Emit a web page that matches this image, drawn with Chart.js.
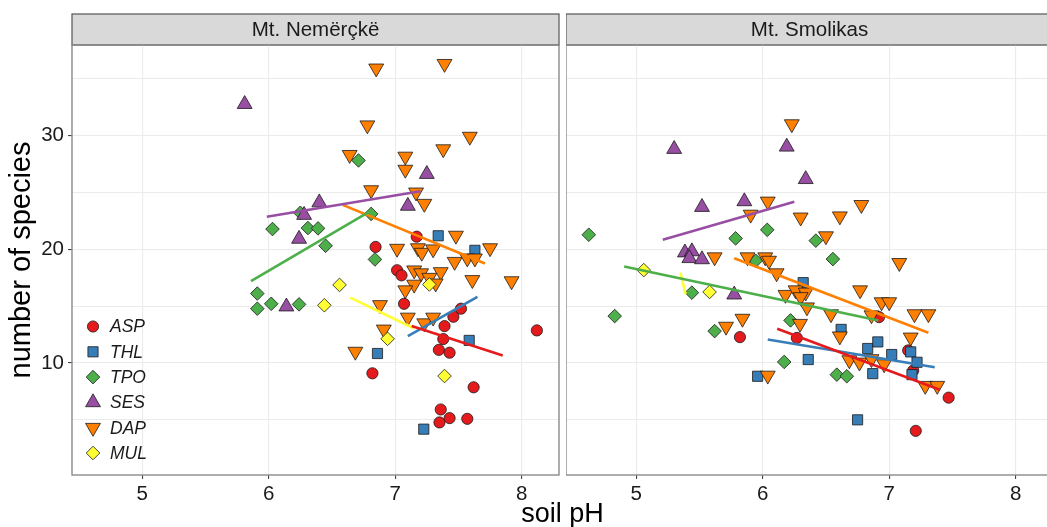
<!DOCTYPE html>
<html>
<head>
<meta charset="utf-8">
<script src="https://cdn.jsdelivr.net/npm/chart.js@4.4.1/dist/chart.umd.min.js"></script>
<style>
  html, body { margin: 0; padding: 0; overflow: hidden; background: #fff; width: 1047px; height: 527px; }
  .panel { position: absolute; top: 0; height: 527px; }
  #xtitle { position: absolute; left: 72px; width: 981px; top: 497px; text-align: center;
            font: 27px 'Liberation Sans', Arial, sans-serif; color: #000; line-height: 32px; }
</style>
</head>
<body>
<div class="panel" style="left:0;width:560px"><canvas id="nem"></canvas></div>
<div class="panel" style="left:566px;width:487px"><canvas id="smo"></canvas></div>
<div id="xtitle">soil pH</div>
<script>
// Species groups and their colours / point shapes
const groups = ['ASP', 'THL', 'TPO', 'SES', 'DAP', 'MUL'];
const groupColors = ['#E41A1C', '#377EB8', '#4DAF4A', '#984EA3', '#FF7F00', '#FFFF33'];
const groupShapes = [
  { pointStyle: 'circle',   radius: 5.6, rotation: 0 },
  { pointStyle: 'rect',     radius: 7.2, rotation: 0 },
  { pointStyle: 'rectRot',  radius: 6.8, rotation: 0 },
  { pointStyle: 'triangle', radius: 8.6, rotation: 0 },
  { pointStyle: 'triangle', radius: 8.6, rotation: 180 },
  { pointStyle: 'rectRot',  radius: 6.8, rotation: 0 }
];
const siteNames = ['Mt. Nemërçkë', 'Mt. Smolikas'];
const xTicks = [5, 6, 7, 8];
const yTicks = [5, 10, 15, 20, 25, 30, 35];

// Mt. Nemërçkë: [soil pH, number of species]
const nemASP = [[7.17,21.1],[6.845,20.2],[7.015,18.15],[7.05,17.7],[7.07,15.2],[7.52,14.77],[7.46,14.06],[7.39,13.24],[7.38,12.1],[7.345,11.15],[7.43,10.9],[8.12,12.86],[6.82,9.09],[7.62,7.86],[7.36,5.91],[7.43,5.15],[7.35,4.77],[7.57,5.09]];
const nemTHL = [[7.34,21.18],[7.63,19.9],[7.585,11.98],[6.86,10.83],[7.226,4.18]];
const nemTPO = [[6.03,21.77],[6.25,23.2],[6.31,21.86],[6.39,21.83],[6.71,27.8],[6.81,23.1],[6.45,20.3],[6.84,19.1],[5.91,16.1],[5.91,14.77],[6.02,15.2],[6.24,15.15]];
const nemSES = [[5.81,32.75],[6.28,23.0],[6.40,24.1],[6.24,20.9],[7.25,26.6],[7.10,23.8],[6.14,14.95]];
const nemDAP = [[6.85,35.9],[7.39,36.3],[6.78,30.9],[7.59,29.9],[7.38,28.8],[6.64,28.3],[7.08,28.15],[7.08,27.0],[6.81,25.2],[7.165,25.0],[7.23,24.0],[7.48,21.2],[7.015,20.05],[7.18,20.1],[7.21,19.7],[7.30,20.0],[7.75,20.1],[7.47,18.9],[7.57,19.2],[7.63,19.2],[7.15,18.15],[7.205,17.9],[7.36,18.0],[7.27,17.5],[7.32,17.0],[7.15,16.9],[7.08,16.4],[7.61,17.3],[7.92,17.2],[6.88,15.1],[7.10,14.0],[7.23,13.5],[7.30,14.0],[6.91,12.95],[6.685,11.0]];
const nemMUL = [[6.56,16.86],[6.44,15.07],[7.27,16.9],[6.94,12.12],[7.39,8.85]];

// Mt. Nemërçkë: fitted trend lines (start, end)
const nemFitASP = [[7.13,13.24],[7.85,10.65]];
const nemFitTHL = [[7.10,12.36],[7.65,15.8]];
const nemFitTPO = [[5.86,17.2],[6.81,23.4]];
const nemFitSES = [[5.985,22.86],[7.20,25.1]];
const nemFitDAP = [[6.585,23.9],[7.71,18.74]];
const nemFitMUL = [[6.645,15.74],[7.15,13.03]];

// Mt. Smolikas: [soil pH, number of species]
const smoASP = [[5.82,12.27],[6.27,12.2],[6.92,14.03],[7.15,11.1],[7.19,9.33],[7.47,6.95],[7.21,4.03]];
const smoTHL = [[5.96,8.83],[6.32,17.06],[6.36,10.3],[6.62,12.95],[6.83,11.27],[6.91,11.85],[7.02,10.74],[6.87,9.06],[7.17,10.97],[7.22,10.06],[7.18,8.97],[6.75,5.0]];
const smoTPO = [[4.625,21.27],[5.786,20.95],[6.036,21.7],[5.945,18.98],[6.42,20.75],[6.555,19.13],[4.83,14.12],[5.44,16.18],[5.62,12.8],[6.22,13.74],[6.17,10.09],[6.586,8.97],[6.665,8.83]];
const smoSES = [[5.30,28.8],[6.19,29.0],[6.34,26.15],[5.52,23.7],[5.855,24.2],[5.385,19.7],[5.44,19.8],[5.42,19.2],[5.52,19.1],[5.775,16.0]];
const smoDAP = [[6.23,31.0],[6.04,24.2],[5.905,23.05],[5.62,19.3],[5.88,19.3],[6.02,19.3],[6.05,19.0],[6.78,23.9],[6.61,22.9],[6.30,22.8],[6.50,21.15],[7.08,18.8],[5.71,13.2],[5.84,13.9],[6.04,8.9],[6.11,17.9],[6.18,16.0],[6.26,16.4],[6.34,16.2],[6.30,15.8],[6.35,14.9],[6.295,13.45],[6.54,14.3],[6.77,16.4],[6.94,15.35],[7.00,15.35],[6.86,14.2],[7.20,14.3],[7.31,14.3],[6.61,12.35],[7.17,12.25],[6.685,10.25],[6.765,10.05],[6.86,10.35],[6.96,9.9],[7.285,8.0],[7.38,8.0]];
const smoMUL = [[5.06,18.16],[5.58,16.24]];

// Mt. Smolikas: fitted trend lines (start, end)
const smoFitASP = [[6.115,13.0],[7.40,7.65]];
const smoFitTHL = [[6.04,12.06],[7.36,9.62]];
const smoFitTPO = [[4.905,18.47],[6.915,13.74]];
const smoFitSES = [[5.21,20.83],[6.25,24.18]];
const smoFitDAP = [[5.775,19.2],[7.31,12.65]];
const smoFitMUL = [[5.35,17.94],[5.39,16.04]];

const FONT = "'Liberation Sans', Arial, sans-serif";
const toXY = arr => arr.map(([x, y]) => ({ x, y }));

function buildDatasets(points, fits) {
  const ds = [];
  groups.forEach((g, i) => {
    const s = groupShapes[i];
    ds.push({
      label: g,
      data: toXY(points[i]),
      order: groups.length - i,
      backgroundColor: groupColors[i],
      borderColor: '#1a1a1a',
      borderWidth: 0.8,
      pointStyle: s.pointStyle,
      pointRadius: s.radius,
      pointRotation: s.rotation,
      pointHoverRadius: s.radius
    });
  });
  groups.forEach((g, i) => {
    ds.push({
      type: 'line',
      label: g + ' trend',
      data: toXY(fits[i]),
      order: 0,
      showLine: true,
      borderColor: groupColors[i],
      borderWidth: 2.6,
      pointRadius: 0,
      fill: false
    });
  });
  return ds;
}

// Strip header, panel frame and in-panel legend
const facetPlugin = {
  id: 'facet',
  beforeDraw(chart, args, opts) {
    const { ctx, chartArea: a } = chart;
    ctx.save();
    const top = 14;
    ctx.fillStyle = '#d9d9d9';
    ctx.fillRect(a.left, top, a.right - a.left, a.top - top);
    ctx.strokeStyle = '#555';
    ctx.lineWidth = 1.2;
    ctx.strokeRect(a.left, top, a.right - a.left, a.top - top);
    ctx.fillStyle = '#1a1a1a';
    ctx.font = '20.5px ' + FONT;
    ctx.textAlign = 'center';
    ctx.textBaseline = 'middle';
    ctx.fillText(opts.title, (a.left + a.right) / 2, (top + a.top) / 2 + 1);
    ctx.restore();
  },
  afterDraw(chart, args, opts) {
    const { ctx, chartArea: a } = chart;
    ctx.save();
    ctx.strokeStyle = '#8a8a8a';
    ctx.lineWidth = 1.4;
    ctx.strokeRect(a.left, a.top, a.right - a.left, a.bottom - a.top);
    if (opts.legend) {
      const x0 = a.left + 21, y0 = 326.5, step = 25.3;
      groups.forEach((g, i) => {
        const y = y0 + i * step;
        const s = groupShapes[i];
        ctx.fillStyle = groupColors[i];
        ctx.strokeStyle = '#1a1a1a';
        ctx.lineWidth = 0.8;
        Chart.helpers.drawPoint(ctx, { pointStyle: s.pointStyle, radius: s.radius, rotation: s.rotation, borderWidth: 0.8 }, x0, y);
        ctx.fillStyle = '#1a1a1a';
        ctx.font = 'italic 17.5px ' + FONT;
        ctx.textAlign = 'left';
        ctx.textBaseline = 'middle';
        ctx.fillText(g, x0 + 17, y + 1);
      });
    }
    ctx.restore();
  }
};

function makeChart(id, title, points, fits, first) {
  const gridColor = '#ebebeb';
  return new Chart(document.getElementById(id), {
    type: 'scatter',
    data: { datasets: buildDatasets(points, fits) },
    plugins: [facetPlugin],
    options: {
      responsive: true,
      maintainAspectRatio: false,
      animation: false,
      events: [],
      layout: { autoPadding: false, padding: { top: 45, right: first ? 1 : 0, left: 0, bottom: 0 } },
      plugins: {
        legend: { display: false },
        tooltip: { enabled: false },
        facet: { title: title, legend: first }
      },
      scales: {
        x: {
          type: 'linear',
          min: 4.445, max: 8.295,
          afterBuildTicks: s => { s.ticks = xTicks.map(v => ({ value: v })); },
          afterFit: s => { s.height = 52; s.paddingLeft = 0; s.paddingRight = 0; },
          border: { display: false },
          grid: { color: gridColor, lineWidth: 1.1, drawTicks: true, tickLength: 4, tickColor: '#444' },
          ticks: { color: '#1a1a1a', font: { family: FONT, size: 20.5 }, padding: 3, maxRotation: 0 }
        },
        y: {
          type: 'linear',
          min: 0.15, max: 37.95,
          afterBuildTicks: s => { s.ticks = yTicks.map(v => ({ value: v })); },
          afterFit: s => { s.width = first ? 72 : 0; s.paddingTop = 0; s.paddingBottom = 0; },
          border: { display: false },
          grid: {
            color: gridColor,
            lineWidth: 1.1,
            drawTicks: first,
            tickLength: 4,
            tickColor: c => (c.tick && c.tick.value % 10 === 0) ? '#444' : 'rgba(0,0,0,0)'
          },
          ticks: {
            display: first,
            color: '#1a1a1a',
            font: { family: FONT, size: 20.5 },
            padding: 4,
            callback: v => (v % 10 === 0 ? String(v) : '')
          },
          title: {
            display: first,
            text: 'number of species',
            color: '#000',
            font: { family: FONT, size: 29 },
            padding: { top: 5, bottom: 0 }
          }
        }
      }
    }
  });
}

makeChart('nem', siteNames[0],
  [nemASP, nemTHL, nemTPO, nemSES, nemDAP, nemMUL],
  [nemFitASP, nemFitTHL, nemFitTPO, nemFitSES, nemFitDAP, nemFitMUL], true);
makeChart('smo', siteNames[1],
  [smoASP, smoTHL, smoTPO, smoSES, smoDAP, smoMUL],
  [smoFitASP, smoFitTHL, smoFitTPO, smoFitSES, smoFitDAP, smoFitMUL], false);
</script>
</body>
</html>
